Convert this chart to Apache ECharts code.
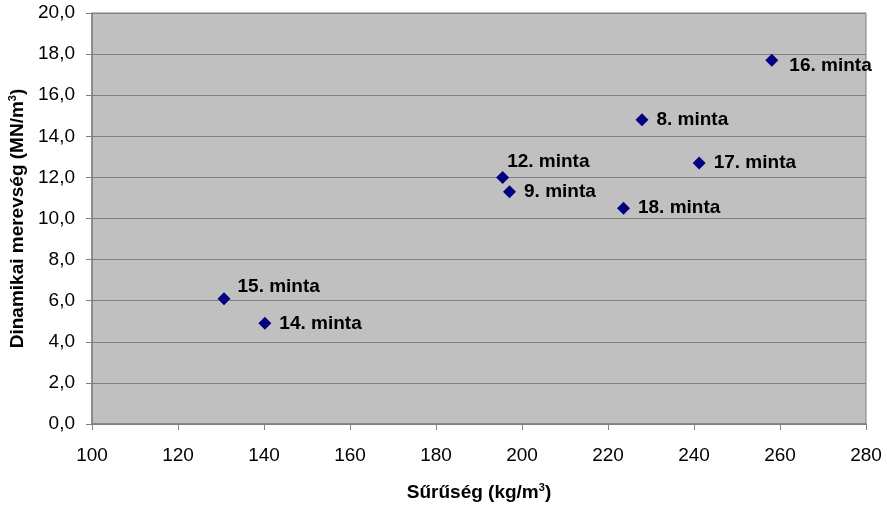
<!DOCTYPE html>
<html>
<head>
<meta charset="utf-8">
<script src="https://cdn.jsdelivr.net/npm/echarts@6/dist/echarts.min.js"></script>
<style>html,body{margin:0;padding:0;background:#fff}#c{width:887px;height:506px}</style>
</head>
<body>
<div id="c"></div>
<script>
const sampleNames = ['15. minta','14. minta','12. minta','9. minta','18. minta','8. minta','17. minta','16. minta'];
const density = [130.7, 140.2, 195.5, 197.1, 223.6, 227.9, 241.2, 258.1];
const stiffness = [6.1, 4.9, 12.0, 11.3, 10.5, 14.8, 12.7, 17.7];
const xTicks = {min: 100, max: 280, step: 20};
const yTicks = {min: 0, max: 20, step: 2};
const xTitle = 'Sűrűség (kg/m{sup|3})';
const yTitle = 'Dinamikai merevség (MN/m{sup|3})';

const FONT = "'Liberation Sans', Arial, sans-serif";
const labelOffsets = {'15. minta': [-1, -12], '12. minta': [-10, -16], '16. minta': [3, 6]};

const data = density.map((d, i) => {
  const item = {value: [d, stiffness[i]], name: sampleNames[i]};
  if (labelOffsets[sampleNames[i]]) item.label = {offset: labelOffsets[sampleNames[i]]};
  return item;
});

const titleStyle = {
  fontFamily: FONT, fontSize: 19, fontWeight: 'bold', color: '#000',
  rich: {sup: {fontFamily: FONT, fontSize: 11, fontWeight: 'bold', color: '#000', verticalAlign: 'top', padding: [0, 0, 10, 0]}}
};

const chart = echarts.init(document.getElementById('c'));
chart.setOption({
  animation: false,
  backgroundColor: '#ffffff',
  grid: {left: 92, right: 21, top: 13, bottom: 82, outerBoundsMode: 'none', containLabel: false,
    show: true, backgroundColor: '#C0C0C0', borderColor: '#808080', borderWidth: 1},
  xAxis: {
    type: 'value', min: xTicks.min, max: xTicks.max, interval: xTicks.step,
    name: xTitle, nameLocation: 'middle', nameGap: 58,
    nameTextStyle: titleStyle,
    axisLine: {show: true, lineStyle: {color: '#808080', width: 1.5}},
    axisTick: {show: true, length: 6, lineStyle: {color: '#808080'}},
    axisLabel: {fontFamily: FONT, fontSize: 19, color: '#000', margin: 22},
    splitLine: {show: false}
  },
  yAxis: {
    type: 'value', min: yTicks.min, max: yTicks.max, interval: yTicks.step,
    name: yTitle, nameLocation: 'middle', nameGap: 64,
    nameTextStyle: titleStyle,
    axisLine: {show: true, lineStyle: {color: '#808080', width: 1.5}},
    axisTick: {show: true, length: 6, lineStyle: {color: '#808080'}},
    axisLabel: {fontFamily: FONT, fontSize: 19, color: '#000', margin: 17,
      formatter: v => v.toFixed(1).replace('.', ',')},
    splitLine: {show: true, lineStyle: {color: '#808080', width: 1}}
  },
  series: [{
    type: 'scatter',
    symbol: 'diamond',
    symbolSize: 13,
    itemStyle: {color: '#000080', opacity: 1},
    data: data,
    label: {show: true, position: 'right', distance: 8, formatter: p => p.name,
      fontFamily: FONT, fontSize: 19, fontWeight: 'bold', color: '#000'}
  }]
});
</script>
</body>
</html>
